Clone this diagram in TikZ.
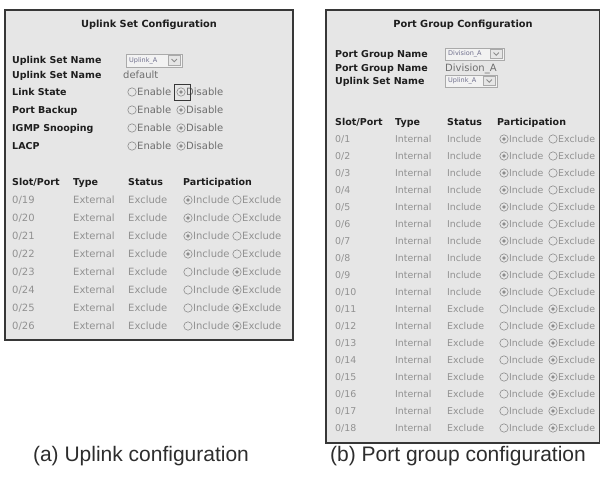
\documentclass[tikz,border=0pt]{standalone}
\usepackage{fontspec}
\setmainfont{DejaVu Sans}
\newfontfamily\capfont{Liberation Sans}
\definecolor{panelbg}{RGB}{230,230,230}
\definecolor{frame}{RGB}{55,55,55}
\definecolor{lblcol}{RGB}{30,30,30}
\definecolor{topval}{RGB}{110,110,110}
\definecolor{valcol}{RGB}{145,145,145}
\definecolor{rbcol}{RGB}{140,140,140}
\definecolor{ddfill}{RGB}{242,242,242}
\definecolor{ddline}{RGB}{170,170,170}
\definecolor{ddtext}{RGB}{110,110,140}
\definecolor{capcol}{RGB}{45,45,45}

\tikzset{
  panel/.style={fill=panelbg,draw=frame,line width=1.3pt},
  txt/.style={inner sep=0pt,text height=7.5pt,text depth=0pt},
  ttl/.style={txt,font=\fontsize{9.8}{11}\selectfont\bfseries,text=lblcol},
  lbl/.style={txt,anchor=west,font=\fontsize{9.5}{11}\selectfont\bfseries,text=lblcol},
  topv/.style={txt,anchor=west,font=\fontsize{10}{12}\selectfont,text=topval},
  val/.style={txt,anchor=west,font=\fontsize{10}{12}\selectfont,text=valcol},
  valb/.style={txt,anchor=west,font=\fontsize{9.4}{11}\selectfont,text=valcol},
  capline/.style={font=\capfont\fontsize{21}{24}\selectfont,text=capcol}
}

% radio buttons and drop-down boxes
\newcommand{\rboff}[2]{\draw[rbcol,line width=0.6pt] (#1,#2) circle (4.2pt);}
\newcommand{\rbon}[2]{\draw[rbcol,line width=0.6pt] (#1,#2) circle (4.2pt);
   \fill[rbcol] (#1,#2) circle (1.8pt);}
\newcommand{\ddbox}[5]{%
   \filldraw[fill=ddfill,draw=ddline] (#1,#2) rectangle (#3,#4);
   \filldraw[fill=panelbg,draw=ddline] ({#3-14},{#2+1.5}) rectangle ({#3-1.5},{#4-1.5});
   \draw[rbcol,line width=0.9pt] ({#3-10.5},{(#2+#4)/2-1.5}) -- ({#3-7.8},{(#2+#4)/2+1.2})
      -- ({#3-5.1},{(#2+#4)/2-1.5});
   \draw ({#1+3},{(#2+#4)/2}) node[anchor=west,inner sep=0pt,text=ddtext,
      font=\fontsize{6.5}{7}\selectfont] {#5};}

\begin{document}
\begin{tikzpicture}[x=1pt,y=-1pt]
   \useasboundingbox (0,0) rectangle (601,480);

   % (a) uplink set
   \filldraw[panel] (5,10) rectangle (293,340);
   \draw (149,24) node[ttl] {Uplink Set Configuration};
   \draw (12,60) node[lbl] {Uplink Set Name};
   \ddbox{126}{54}{182}{67}{Uplink\_A}
   \draw (12,75) node[lbl] {Uplink Set Name};
   \draw (123,75) node[topv] {default};
   \foreach \y/\t in {92/Link State,110/Port Backup,128/IGMP Snooping,146/LACP}{
      \draw (12,\y) node[lbl] {\t};
      \rboff{132}{\y}
      \draw (137,\y) node[topv] {Enable};
      \rbon{181}{\y}
      \draw (186,\y) node[topv] {Disable};
   }
   \draw[frame,line width=0.6pt] (174,84) rectangle (190,100);
   \draw (12,182) node[lbl] {Slot/Port};
   \draw (73,182) node[lbl] {Type};
   \draw (128,182) node[lbl] {Status};
   \draw (183,182) node[lbl] {Participation};
   \foreach \p [evaluate=\p as \y using 200+18*(\p-19)] in {19,...,26}{
      \draw (12,\y) node[val] {0/\p};
      \draw (73,\y) node[val] {External};
      \draw (128,\y) node[val] {Exclude};
      \ifnum\p<23 \rbon{188}{\y}\rboff{237}{\y}\else\rboff{188}{\y}\rbon{237}{\y}\fi
      \draw (193,\y) node[val] {Include};
      \draw (242,\y) node[val] {Exclude};
   }

   % (b) port group
   \filldraw[panel] (326,10) rectangle (599.3,443);
   \draw (463,24) node[ttl] {Port Group Configuration};
   \draw (335,54) node[lbl] {Port Group Name};
   \ddbox{445}{48}{504}{60}{Division\_A}
   \draw (335,68) node[lbl] {Port Group Name};
   \draw (445,68) node[topv] {Division\_A};
   \draw (335,81) node[lbl] {Uplink Set Name};
   \ddbox{445}{75}{497}{87}{Uplink\_A}
   \draw (335,122) node[lbl] {Slot/Port};
   \draw (395,122) node[lbl] {Type};
   \draw (447,122) node[lbl] {Status};
   \draw (497,122) node[lbl] {Participation};
   \foreach \p [evaluate=\p as \y using 139+17*(\p-1)] in {1,...,18}{
      \draw (335,\y) node[valb] {0/\p};
      \draw (395,\y) node[valb] {Internal};
      \ifnum\p<11
         \draw (447,\y) node[valb] {Include};
         \rbon{504}{\y}\rboff{553}{\y}
      \else
         \draw (447,\y) node[valb] {Exclude};
         \rboff{504}{\y}\rbon{553}{\y}
      \fi
      \draw (509,\y) node[valb] {Include};
      \draw (558,\y) node[valb] {Exclude};
   }

   % captions
   \draw (141,456) node[capline] {(a) Uplink configuration};
   \draw (458,456) node[capline] {(b) Port group configuration};
\end{tikzpicture}
\end{document}
